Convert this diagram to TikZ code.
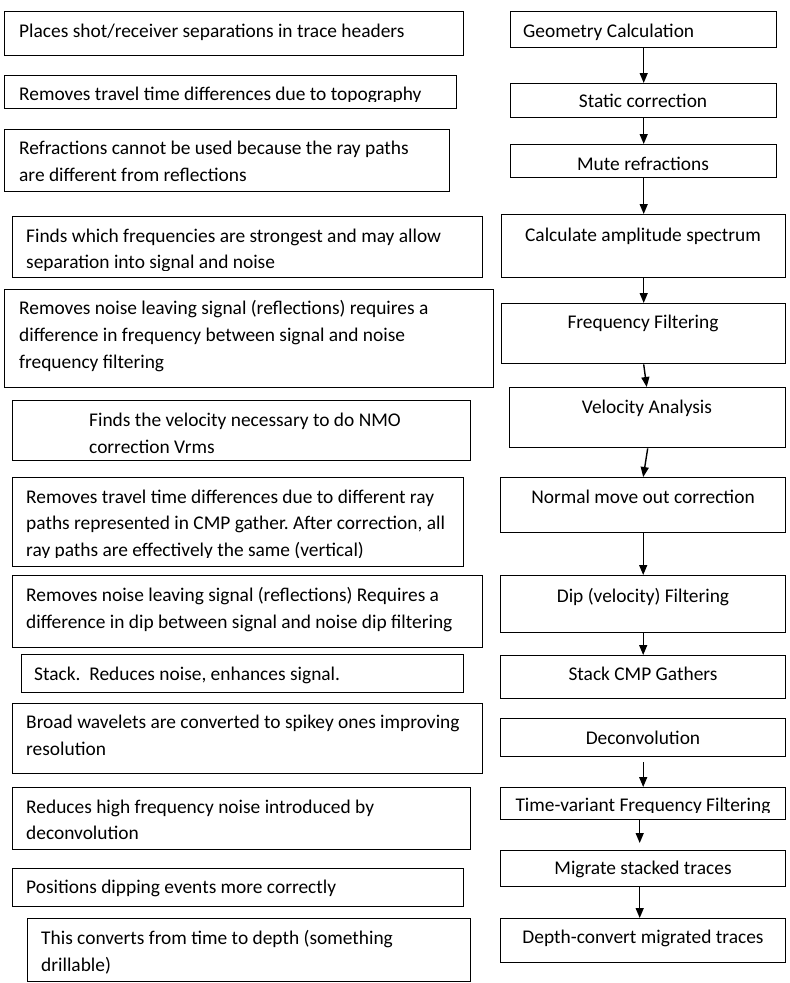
\documentclass[tikz,border=0pt]{standalone}
\usepackage{fontspec}
\setmainfont{Carlito}
\usetikzlibrary{arrows.meta}
\frenchspacing
\tikzset{
  boxst/.style={draw=black, line width=1.4pt, rectangle, inner sep=0pt, fill=none},
  txtst/.style={inner sep=0pt, text=black, font=\fontsize{19.4pt}{27pt}\selectfont},
  arr/.style={draw=black, line width=1.4pt, -{Triangle[length=10pt,width=8pt]}}
}
\newcommand\bx[5]{\node[boxst, anchor=north west, minimum width={#4-#2}, minimum height={#5-#3}] (#1) at (#2,#3) {};}
\newcommand\tl[4]{\node[txtst, anchor=base west] (#1) at (#2,#3) {#4};}
\newcommand\tc[3]{\node[txtst, anchor=base] (#1) at (643,#2) {#3};}
\begin{document}
\begin{tikzpicture}[x=1pt,y=-1pt]
\useasboundingbox (0,0) rectangle (790,983);
\fill[white] (0,0) rectangle (790,983);
% left boxes
\bx{L1}{4}{11}{463}{55}
\bx{L2}{4}{75}{456}{108}
\bx{L3}{4}{129}{449}{191}
\bx{L4}{12}{216}{482}{277}
\bx{L5}{4}{289}{493}{387}
\bx{L6}{12}{400}{470}{460}
\bx{L7}{12}{477}{463}{566}
\bx{L8}{12}{575}{482}{647}
\bx{L9}{21}{654}{463}{692}
\bx{L10}{12}{703}{482}{773}
\bx{L11}{12}{787}{470}{849}
\bx{L12}{12}{868}{463}{906}
\bx{L13}{27}{918}{470}{981}
% right boxes
\bx{R1}{510}{11}{776}{47}
\bx{R2}{510}{83}{776}{117}
\bx{R3}{510}{144}{776}{177}
\bx{R4}{501}{214}{785}{277}
\bx{R5}{501}{303}{785}{363}
\bx{R6}{509}{387}{785}{447}
\bx{R7}{500}{477}{785}{532}
\bx{R8}{500}{575}{785}{632}
\bx{R9}{500}{655}{785}{698}
\bx{R10}{500}{718}{785}{756}
\bx{R11}{500}{787}{785}{819}
\bx{R12}{500}{850}{785}{886}
\bx{R13}{500}{918}{785}{962}
% left texts
\tl{t1}{19}{37}{Places shot/receiver separations in trace headers}
\begin{scope}
\clip (4,75) rectangle (456,101);
\tl{t2}{19}{100}{Removes travel time differences due to topography}
\end{scope}
\tl{t3a}{19}{154}{Refractions cannot be used because the ray paths}
\tl{t3b}{19}{181}{are different from reflections}
\tl{t4a}{26}{242}{Finds which frequencies are strongest and may allow}
\begin{scope}
\clip (12,216) rectangle (482,270);
\tl{t4b}{26}{268.5}{separation into signal and noise}
\end{scope}
\tl{t5a}{19}{314}{Removes noise leaving signal (reflections) requires a}
\tl{t5b}{19}{341}{difference in frequency between signal and noise}
\tl{t5c}{19}{368}{frequency filtering}
\tl{t6a}{89}{426}{Finds the velocity necessary to do NMO}
\tl{t6b}{89}{453}{correction Vrms}
\tl{t7a}{26}{503}{Removes travel time differences due to different ray}
\tl{t7b}{26}{529.5}{paths represented in CMP gather. After correction, all}
\begin{scope}
\clip (12,477) rectangle (463,557.5);
\tl{t7c}{26}{556}{ray paths are effectively the same (vertical)}
\end{scope}
\tl{t8a}{26}{601}{Removes noise leaving signal (reflections) Requires a}
\tl{t8b}{26}{628}{difference in dip between signal and noise dip filtering}
\tl{t9}{34}{680}{Stack.\ \ Reduces noise, enhances signal.}
\tl{t10a}{26}{728}{Broad wavelets are converted to spikey ones improving}
\tl{t10b}{26}{755}{resolution}
\tl{t11a}{26}{813}{Reduces high frequency noise introduced by}
\tl{t11b}{26}{839}{deconvolution}
\tl{t12}{26}{893}{Positions dipping events more correctly}
\tl{t13a}{41}{944}{This converts from time to depth (something}
\tl{t13b}{41}{971}{drillable)}
% right texts
\tl{r1}{523}{37}{Geometry Calculation}
\tc{r2}{107}{Static correction}
\tc{r3}{170}{Mute refractions}
\tc{r4}{241}{Calculate amplitude spectrum}
\tc{r5}{328}{Frequency Filtering}
\node[txtst, anchor=base] (r6) at (647,413) {Velocity Analysis};
\tc{r7}{503}{Normal move out correction}
\tc{r8}{602}{Dip (velocity) Filtering}
\tc{r9}{680}{Stack CMP Gathers}
\tc{r10}{744}{Deconvolution}
\begin{scope}
\clip (500,787) rectangle (785,812.5);
\tc{r11}{811}{Time-variant Frequency Filtering}
\end{scope}
\tc{r12}{874}{Migrate stacked traces}
\tc{r13}{943}{Depth-convert migrated traces}
% arrows
\draw[arr] (R1.south) -- (R2.north);
\draw[arr] (R2.south) -- (R3.north);
\draw[arr] (R3.south) -- (R4.north);
\draw[arr] (R4.south) -- (R5.north);
\draw[arr] (R5.south) -- ([xshift=-1pt]R6.north);
\draw[arr] (R6.south) -- (R7.north);
\draw[arr] (R7.south) -- (R8.north);
\draw[arr] (R8.south) -- (R9.north);
\draw[arr] ([yshift=-5pt]R10.south) -- (R11.north);
\draw[arr] ([xshift=-3.5pt]R11.south) -- ([xshift=-3.5pt,yshift=7pt]R12.north);
\draw[arr] ([xshift=-3.5pt]R12.south) -- ([xshift=-3.5pt]R13.north);
\end{tikzpicture}
\end{document}
